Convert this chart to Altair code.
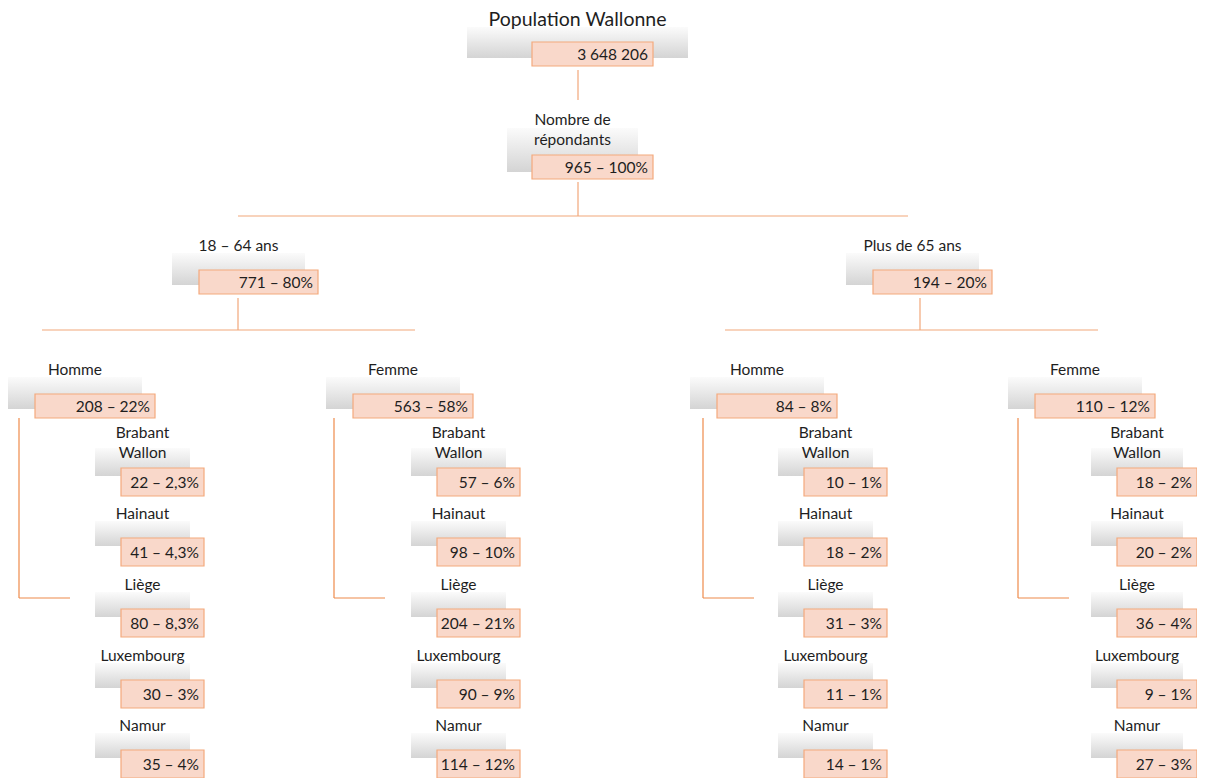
import altair as alt
import pandas as pd

# ---------------- data ----------------
top_label = "Population Wallonne"
top_value = "3 648 206"
resp_label = "Nombre de\nrépondants"
resp_value = "965 – 100%"
age_labels = ["18 – 64 ans", "Plus de 65 ans"]
age_values = ["771 – 80%", "194 – 20%"]
sex_labels = ["Homme", "Femme", "Homme", "Femme"]
sex_values = ["208 – 22%", "563 – 58%", "84 – 8%", "110 – 12%"]
province_labels = ["Brabant\nWallon", "Hainaut", "Liège", "Luxembourg", "Namur"]
province_values = [
    ["22 – 2,3%", "41 – 4,3%", "80 – 8,3%", "30 – 3%", "35 – 4%"],
    ["57 – 6%", "98 – 10%", "204 – 21%", "90 – 9%", "114 – 12%"],
    ["10 – 1%", "18 – 2%", "31 – 3%", "11 – 1%", "14 – 1%"],
    ["18 – 2%", "20 – 2%", "36 – 4%", "9 – 1%", "27 – 3%"],
]

# ---------------- layout (page pixels) ----------------
W, H = 1189, 770
FONT = "Lato"
age_x = [199, 873]
sex_x = [35, 353, 717, 1035]
prov_dx = [86, 84, 87, 82]
prov_w = [83, 83, 83, 80]
prov_y = [468, 538, 609, 680, 750]
age_drop_x = [238, 920]
age_bar = [(42, 415), (725, 1098)]
L_vert_x = [19, 334, 703, 1018]

boxes, labels, values, segs = [], [], [], []


def node(label, value, ox1, ox2, oy1, oy2, gx1, gx2, gy1, gy2, size=15.5, dy=24):
    boxes.append(dict(gx1=gx1, gx2=gx2, gy1=gy1, gy2=gy2, ox1=ox1, ox2=ox2, oy1=oy1, oy2=oy2))
    cx = (gx1 + gx2) / 2
    lines = label.split("\n")
    if len(lines) == 1:
        ys = [oy1 - dy]
    else:
        ys = [oy1 - 35, oy1 - 15]
    for t, y in zip(lines, ys):
        labels.append(dict(t=t, x=cx, y=y, s=size))
    values.append(dict(t=value, x=ox2 - 5, y=(oy1 + oy2) / 2 + 0.5))


# top
node(top_label, top_value, 532, 653, 42, 66, 467, 688, 27, 58, size=19.5, dy=22)
node(resp_label, resp_value, 532, 653, 155, 179, 507, 638, 128, 172)
for i, (l, v) in enumerate(zip(age_labels, age_values)):
    x1 = age_x[i]
    node(l, v, x1, x1 + 119, 270, 294, x1 - 27, x1 + 106, 253, 285)
for i, (l, v) in enumerate(zip(sex_labels, sex_values)):
    x1 = sex_x[i]
    node(l, v, x1, x1 + 120, 394, 418, x1 - 27, x1 + 107, 377, 409)
    px1 = x1 + prov_dx[i]
    pw = prov_w[i]
    for j, (pl, pv) in enumerate(zip(province_labels, province_values[i])):
        oy = prov_y[j]
        gy1 = oy - 20 if "\n" in pl else oy - 17
        node(pl, pv, px1, px1 + pw, oy, oy + 28, px1 - 26, px1 + pw - 14, gy1, oy + 8)

# connectors
segs.append(dict(x=578, x2=578, y=70, y2=100, c="a"))
segs.append(dict(x=578, x2=578, y=182, y2=216, c="a"))
segs.append(dict(x=238, x2=908, y=216, y2=216, c="a"))
for i in range(2):
    segs.append(dict(x=age_drop_x[i], x2=age_drop_x[i], y=298, y2=330, c="a"))
    segs.append(dict(x=age_bar[i][0], x2=age_bar[i][1], y=330, y2=330, c="a"))
for vx in L_vert_x:
    segs.append(dict(x=vx, x2=vx, y=418, y2=598, c="b"))
    segs.append(dict(x=vx, x2=vx + 51, y=598, y2=598, c="b"))

bdf = pd.DataFrame(boxes)
ldf = pd.DataFrame(labels)
vdf = pd.DataFrame(values)
sdf = pd.DataFrame(segs)

xs = alt.Scale(domain=[8, 8 + W], nice=False, zero=False)
ys = alt.Scale(domain=[8, 8 + H], nice=False, zero=False, reverse=True)


def X(f):
    return alt.X(f, type="quantitative", scale=xs, axis=None)


def Y(f):
    return alt.Y(f, type="quantitative", scale=ys, axis=None)


grad = alt.Gradient(
    gradient="linear",
    stops=[alt.GradientStop(color="#fbfbfb", offset=0),
           alt.GradientStop(color="#d4d4d4", offset=1)],
    x1=0, x2=0, y1=0, y2=1,
)

gray = alt.Chart(bdf).mark_rect(fill=grad, clip=False).encode(
    x=X("gx1"), x2="gx2", y=Y("gy1"), y2="gy2")
orange = alt.Chart(bdf).mark_rect(fill="#f9d8ca", stroke="#f4a97c", strokeWidth=1.2, clip=False).encode(
    x=X("ox1"), x2="ox2", y=Y("oy1"), y2="oy2")
lines_a = alt.Chart(sdf[sdf.c == "a"]).mark_rule(color="#f2a77a", strokeWidth=1.2).encode(
    x=X("x"), x2="x2", y=Y("y"), y2="y2")
lines_b = alt.Chart(sdf[sdf.c == "b"]).mark_rule(color="#ee8a4a", strokeWidth=1.2).encode(
    x=X("x"), x2="x2", y=Y("y"), y2="y2")
lab = alt.Chart(ldf).mark_text(align="center", baseline="middle", font=FONT, color="#1e1e1e").encode(
    x=X("x"), y=Y("y"), text="t:N", size=alt.Size("s:Q", scale=None, legend=None))
val = alt.Chart(vdf).mark_text(align="right", baseline="middle", font=FONT, fontSize=15.5, color="#1e1e1e").encode(
    x=X("x"), y=Y("y"), text="t:N")

chart = alt.layer(gray, lines_a, lines_b, orange, lab, val).properties(
    width=W, height=H, padding=0, background="white",
    autosize=alt.AutoSizeParams(type="none")
).configure_view(stroke=None)

chart.save("out.html", embed_options={"renderer": "svg", "actions": False})
